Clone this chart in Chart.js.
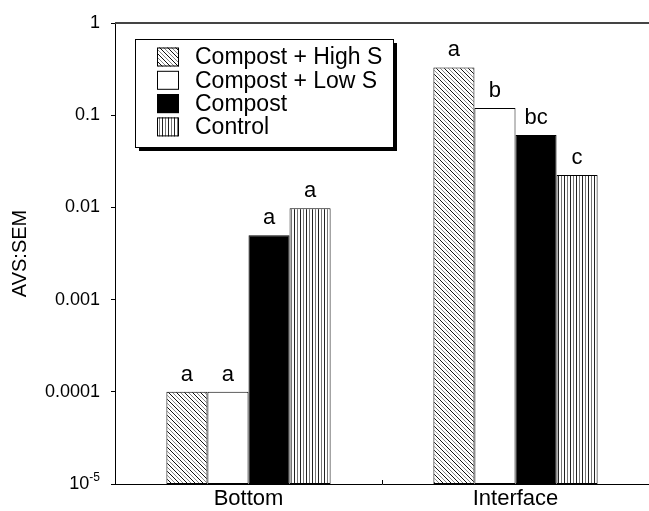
<!DOCTYPE html>
<html>
<head>
<meta charset="utf-8">
<script src="https://cdn.jsdelivr.net/npm/chart.js@4.4.0/dist/chart.umd.min.js"></script>
<style>
  html, body { margin: 0; padding: 0; background: #fff; }
  canvas { display: block; }
</style>
</head>
<body>
<canvas id="avsChart" width="649" height="511"></canvas>
<script>
const categories = ['Bottom', 'Interface']
const seriesNames = ['Compost + High S', 'Compost + Low S', 'Compost', 'Control']
const highS = [0.0001, 0.33]
const lowS = [0.0001, 0.12]
const compost = [0.005, 0.061]
const control = [0.0098, 0.0225]
// letters printed above each bar
const highSLetters = ['a', 'a']
const lowSLetters = ['a', 'b']
const compostLetters = ['a', 'bc']
const controlLetters = ['a', 'c']
const yTicks = [0.00001, 0.0001, 0.001, 0.01, 0.1, 1]
const yTickLabels = ['10^-5', '0.0001', '0.001', '0.01', '0.1', '1']

const fontFam = '"Liberation Sans", Arial, sans-serif'

function makeHatch(){
  const c = document.createElement('canvas')
  c.width = 8; c.height = 8
  const g = c.getContext('2d')
  g.fillStyle = '#fff'
  g.fillRect(0, 0, 8, 8)
  g.lineWidth = 1
  // "\" lines, dark and grey in turn
  for (const off of [-8, -4, 0, 4, 8]) {
    g.strokeStyle = (off % 8 === 0) ? '#111' : '#888'
    g.beginPath()
    g.moveTo(-8, -8 + off)
    g.lineTo(16, 16 + off)
    g.stroke()
  }
  return g.createPattern(c, 'repeat')
}

function makeVertical(){
  const c = document.createElement('canvas')
  c.width = 6; c.height = 6
  const g = c.getContext('2d')
  g.fillStyle = '#fff'
  g.fillRect(0, 0, 6, 6)
  g.fillStyle = '#222'
  g.fillRect(0, 0, 1, 6)
  g.fillStyle = '#777'
  g.fillRect(3, 0, 1, 6)
  return g.createPattern(c, 'repeat')
}

const hatch = makeHatch()
const vlines = makeVertical()

const extrasPlugin = {
  id: 'extras',
  beforeDraw(chart){
    const ctx = chart.ctx
    ctx.save()
    ctx.fillStyle = '#fff'
    ctx.fillRect(0, 0, chart.width, chart.height)
    ctx.restore()
  },
  afterDraw(chart){
    const ctx = chart.ctx
    const area = chart.chartArea
    const y = chart.scales.y
    const x = chart.scales.x
    ctx.save()

    // top frame line
    ctx.strokeStyle = '#444'
    ctx.lineWidth = 2
    ctx.beginPath()
    ctx.moveTo(area.left, area.top)
    ctx.lineTo(area.right, area.top)
    ctx.stroke()

    // small tick between the two groups
    const mid = (x.getPixelForValue(0) + x.getPixelForValue(1)) / 2
    ctx.strokeStyle = '#000'
    ctx.lineWidth = 1
    ctx.beginPath()
    ctx.moveTo(Math.round(mid) + 0.5, area.bottom)
    ctx.lineTo(Math.round(mid) + 0.5, area.bottom - 4)
    ctx.stroke()

    // 10^-5 label with superscript
    yTickLabels.forEach((lab, i) => {
      if (lab.indexOf('^') < 0) return
      const parts = lab.split('^')
      const py = y.getPixelForValue(yTicks[i])
      ctx.fillStyle = '#000'
      ctx.font = '12px ' + fontFam
      const supW = ctx.measureText(parts[1]).width
      const rightEdge = area.left - 4 - 11
      ctx.textAlign = 'left'
      ctx.textBaseline = 'alphabetic'
      ctx.fillText(parts[1], rightEdge - supW, py - 3)
      ctx.font = '18px ' + fontFam
      ctx.textAlign = 'right'
      ctx.textBaseline = 'middle'
      ctx.fillText(parts[0], rightEdge - supW, py)
    })

    // letters above bars
    ctx.font = '22px ' + fontFam
    ctx.fillStyle = '#000'
    ctx.textAlign = 'center'
    ctx.textBaseline = 'alphabetic'
    chart.data.datasets.forEach((ds, i) => {
      const meta = chart.getDatasetMeta(i)
      meta.data.forEach((bar, j) => {
        ctx.fillText(ds.letters[j], bar.x, bar.y - 11)
      })
    })

    // legend box with drop shadow
    const lx = 135, ly = 39, lw = 258, lh = 108
    ctx.fillStyle = '#000'
    ctx.fillRect(lx + 4, ly + 4, lw, lh)
    ctx.fillStyle = '#fff'
    ctx.fillRect(lx, ly, lw, lh)
    ctx.strokeStyle = '#000'
    ctx.lineWidth = 1
    ctx.strokeRect(lx + 0.5, ly + 0.5, lw, lh)

    ctx.font = '23px ' + fontFam
    ctx.textAlign = 'left'
    ctx.textBaseline = 'middle'
    chart.data.datasets.forEach((ds, i) => {
      const rowY = 57 + i * 23.3
      ctx.fillStyle = ds.backgroundColor
      ctx.fillRect(157, rowY - 9.5, 22, 19)
      ctx.strokeStyle = '#000'
      ctx.strokeRect(157.5, rowY - 9, 21, 18)
      ctx.fillStyle = '#000'
      ctx.fillText(ds.label, 195, rowY + 1)
    })
    ctx.restore()
  }
}

new Chart(document.getElementById('avsChart'), {
  type: 'bar',
  data: {
    labels: categories,
    datasets: [
      { label: seriesNames[0], data: highS, backgroundColor: hatch, letters: highSLetters },
      { label: seriesNames[1], data: lowS, backgroundColor: '#fff', letters: lowSLetters },
      { label: seriesNames[2], data: compost, backgroundColor: '#000', letters: compostLetters },
      { label: seriesNames[3], data: control, backgroundColor: vlines, letters: controlLetters }
    ]
  },
  options: {
    responsive: false,
    animation: false,
    devicePixelRatio: 1,
    events: [],
    layout: { padding: { top: 23, right: 0, left: 0, bottom: 0 } },
    datasets: {
      bar: {
        categoryPercentage: 0.615,
        barPercentage: 1,
        borderColor: '#000',
        borderWidth: 1,
        borderSkipped: false
      }
    },
    plugins: {
      legend: { display: false },
      tooltip: { enabled: false }
    },
    scales: {
      x: {
        grid: { display: false, drawTicks: false },
        border: { display: true, color: '#000', width: 1 },
        ticks: { color: '#000', font: { family: fontFam, size: 22 }, padding: 2 },
        afterFit: s => { s.height = 27 }
      },
      y: {
        type: 'logarithmic',
        min: 0.00001,
        max: 1,
        afterBuildTicks: s => { s.ticks = yTicks.map(v => ({ value: v })) },
        grid: { display: true, drawOnChartArea: false, drawTicks: true, tickLength: 4, color: '#000' },
        border: { display: true, color: '#000', width: 1 },
        ticks: {
          color: '#000',
          font: { family: fontFam, size: 18 },
          padding: 11,
          autoSkip: false,
          callback: v => {
            const i = yTicks.findIndex(t => Math.abs(t - v) / t < 1e-6)
            if (i < 0) return ''
            const lab = yTickLabels[i]
            return lab.indexOf('^') >= 0 ? '' : lab
          }
        },
        title: {
          display: true,
          text: 'AVS:SEM',
          color: '#000',
          font: { family: fontFam, size: 20 },
          padding: { top: 8, bottom: 0 }
        },
        afterFit: s => { s.width = 115 }
      }
    }
  },
  plugins: [extrasPlugin]
})
</script>
</body>
</html>
